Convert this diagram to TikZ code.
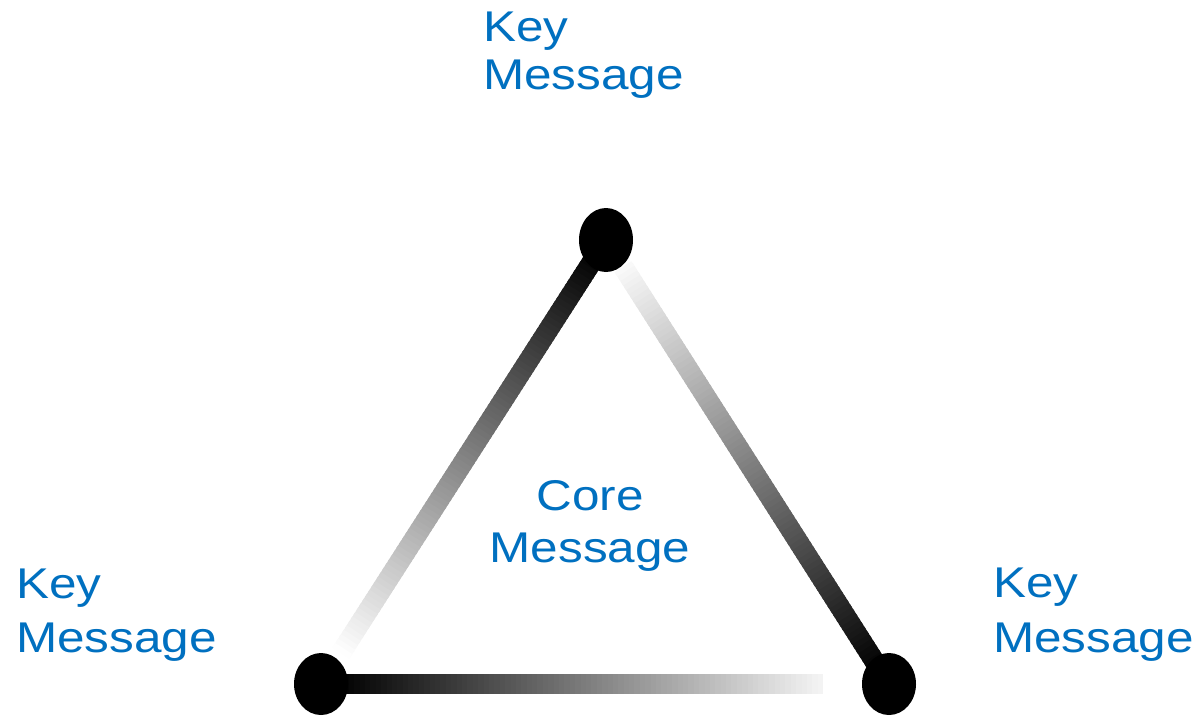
\documentclass[tikz,border=0pt]{standalone}
\usepackage{fontspec}
\newfontfamily\lblfont[FakeStretch=1.15]{Liberation Sans}
\usetikzlibrary{calc,shapes.geometric,backgrounds}
\definecolor{msgblue}{RGB}{0,112,192}
\newcommand{\gradline}[6]{%
  \foreach \i in {0,...,89}{%
    \pgfmathsetmacro{\ta}{#3+(#4-#3)*\i/90}%
    \pgfmathsetmacro{\tb}{#3+(#4-#3)*min(\i+1.6,90)/90}%
    \pgfmathsetmacro{\pc}{#5+(#6-#5)*(\i+0.5)/90}%
    \draw[edgeline, draw=black!\pc!white] ($(#1.center)!\ta!(#2.center)$) -- ($(#1.center)!\tb!(#2.center)$);
  }}
\begin{document}
\begin{tikzpicture}[x=1pt,y=-1pt,
  dot/.style={ellipse, fill=black, inner sep=0pt, minimum width=54pt, minimum height=62pt},
  edgeline/.style={line width=20pt, line cap=butt},
  lbl/.style={inner sep=0pt, text=msgblue, font=\lblfont\fontsize{43}{52}\selectfont}]
\useasboundingbox (0,0) rectangle (1202,716);
% vertices
\node[dot, minimum height=64pt] (top) at (606,240) {};
\node[dot] (bl) at (321,684) {};
\node[dot] (br) at (889,684) {};
% edges with fading
\begin{scope}[on background layer]
\fill[white] (0,0) rectangle (1202,716);
\gradline{top}{bl}{0.03}{0.93}{100}{0}
\gradline{br}{top}{0.03}{0.94}{100}{2}
\gradline{bl}{br}{0.03}{0.884}{100}{4}
\end{scope}
% labels
\node[lbl, anchor=base west] (tkey) at (483,41) {Key};
\node[lbl, anchor=base west] (tmsg) at (483,89) {Message};
\node[lbl, anchor=base west] (lkey) at (16,598) {Key};
\node[lbl, anchor=base west] (lmsg) at (16,652) {Message};
\node[lbl, anchor=base west] (rkey) at (993,597) {Key};
\node[lbl, anchor=base west] (rmsg) at (993,652) {Message};
\node[lbl, anchor=base] (ccore) at (590,510) {Core};
\node[lbl, anchor=base] (cmsg) at (590,562) {Message};
\end{tikzpicture}
\end{document}
